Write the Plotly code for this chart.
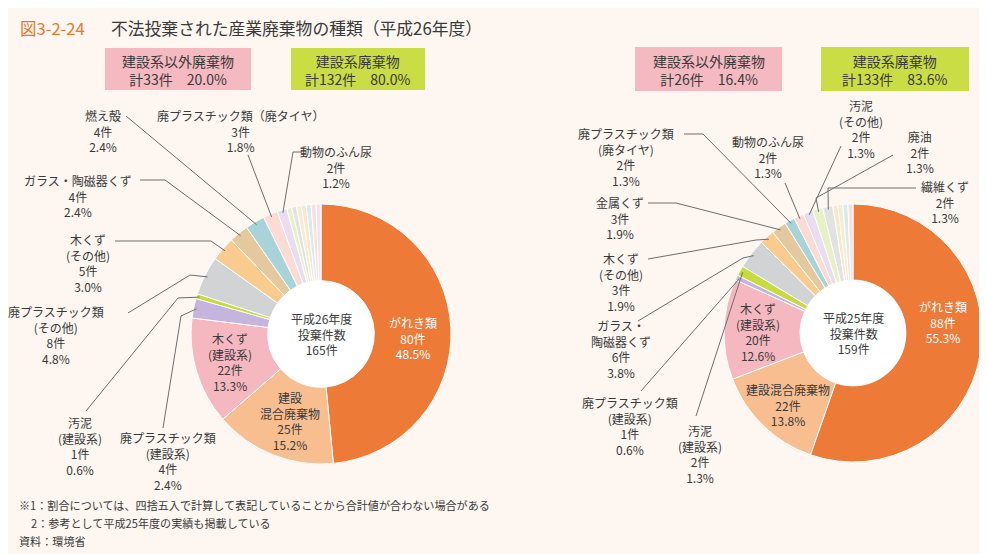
import math
import plotly.graph_objects as go

W, H = 987, 554

# ---------------- data ----------------
cats_26 = ["がれき類", "建設混合廃棄物", "木くず（建設系）", "廃プラスチック類（建設系）", "汚泥（建設系）",
           "廃プラスチック類（その他）", "木くず（その他）", "ガラス・陶磁器くず", "燃え殻",
           "廃プラスチック類（廃タイヤ）", "動物のふん尿",
           "その他①", "その他②", "その他③", "その他④", "その他⑤", "その他⑥", "その他⑦"]
vals_26 = [80, 25, 22, 4, 1, 8, 5, 4, 4, 3, 2, 1, 1, 1, 1, 1, 1, 1]
pct_26 = ["48.5%", "15.2%", "13.3%", "2.4%", "0.6%", "4.8%", "3.0%", "2.4%", "2.4%", "1.8%", "1.2%"]
disp_26 = [["がれき類"], ["建設", "混合廃棄物"], ["木くず", "(建設系)"], ["廃プラスチック類", "(建設系)"],
           ["汚泥", "(建設系)"], ["廃プラスチック類", "(その他)"], ["木くず", "(その他)"],
           ["ガラス・陶磁器くず"], ["燃え殻"], ["廃プラスチック類（廃タイヤ）"], ["動物のふん尿"]]

cats_25 = ["がれき類", "建設混合廃棄物", "木くず（建設系）", "廃プラスチック類（建設系）", "汚泥（建設系）",
           "ガラス・陶磁器くず", "木くず（その他）", "金属くず", "廃プラスチック類（廃タイヤ）",
           "動物のふん尿", "汚泥（その他）", "廃油", "繊維くず",
           "その他①", "その他②", "その他③", "その他④"]
vals_25 = [88, 22, 20, 1, 2, 6, 3, 3, 2, 2, 2, 2, 2, 1, 1, 1, 1]
pct_25 = ["55.3%", "13.8%", "12.6%", "0.6%", "1.3%", "3.8%", "1.9%", "1.9%", "1.3%", "1.3%", "1.3%", "1.3%", "1.3%"]
disp_25 = [["がれき類"], ["建設混合廃棄物"], ["木くず", "(建設系)"], ["廃プラスチック類", "(建設系)"],
           ["汚泥", "(建設系)"], ["ガラス・", "陶磁器くず"], ["木くず", "(その他)"], ["金属くず"],
           ["廃プラスチック類", "(廃タイヤ)"], ["動物のふん尿"], ["汚泥", "(その他)"], ["廃油"], ["繊維くず"]]

years = ["平成26年度", "平成25年度"]
group_names = ["建設系以外廃棄物", "建設系廃棄物"]
group_counts_26 = [33, 132]
group_pct_26 = ["20.0%", "80.0%"]
group_counts_25 = [26, 133]
group_pct_25 = ["16.4%", "83.6%"]

# ---------------- style ----------------
BG = "#FDF6F1"
TXT = "#3A3A3A"
FONT = "Noto Sans CJK JP"
base_colors = ["#ED7B37", "#F9BE90", "#F5B8C0", "#C5B4DC", "#C8DB3E"]
colors_26 = base_colors + ["#D2D3D5", "#FACB8F", "#E3C99D", "#A8D3D8", "#FDDBD5", "#EBDDF0",
                           "#E8F1C6", "#E1E2E2", "#F9EBD0", "#FCE5CB", "#D5ECEF", "#FCDFD9", "#EFE3F2"]
colors_25 = base_colors + ["#D2D3D5", "#FACB8F", "#E3C99D", "#A8D3D8", "#FDDBD5", "#EBDDF0",
                           "#E8F1C6", "#E1E2E2", "#FCE5CB", "#F9EBD0", "#D5ECEF", "#FCDFD9"]

HOLE = 0.41
pies = [
    dict(vals=vals_26, cats=cats_26, colors=colors_26, cx=313, cy=326, r=130),
    dict(vals=vals_25, cats=cats_25, colors=colors_25, cx=845, cy=325, r=129),
]

fig = go.Figure()
shapes = []
annotations = []


def text(x, y, s, size=12, color=TXT, xanchor="center"):
    annotations.append(dict(x=x, y=y, xref="x", yref="y", text=s, showarrow=False,
                            xanchor=xanchor, yanchor="middle", align="center",
                            font=dict(family=FONT, size=size, color=color)))


def block(x, yc, lines, size=12, color=TXT):
    text(x, yc, "<br>".join(lines), size=size, color=color)


def slice_point(p, idx, inset=3):
    total = sum(p["vals"])
    cum = sum(p["vals"][:idx]) + p["vals"][idx] / 2
    th = 2 * math.pi * cum / total
    rr = p["r"] - inset
    return (p["cx"] + rr * math.sin(th), p["cy"] - rr * math.cos(th))


for p in pies:
    # white disc behind the hole
    rh = p["r"] * (HOLE + 0.05)
    shapes.append(dict(type="circle", xref="x", yref="y", x0=p["cx"] - rh, x1=p["cx"] + rh,
                       y0=p["cy"] - rh, y1=p["cy"] + rh, fillcolor="white",
                       line=dict(width=0), layer="below"))
    fig.add_trace(go.Pie(
        labels=p["cats"], values=p["vals"], sort=False, direction="clockwise", rotation=0,
        hole=HOLE, textinfo="none", showlegend=False,
        marker=dict(colors=p["colors"], line=dict(color="white", width=1)),
        domain=dict(x=[(p["cx"] - p["r"]) / W, (p["cx"] + p["r"]) / W],
                    y=[1 - (p["cy"] + p["r"]) / H, 1 - (p["cy"] - p["r"]) / H]),
    ))

# ---------------- labels & leader lines ----------------
LINE = dict(color="#6E6E6E", width=1)

# idx -> (label center, leader anchor points); the last point is computed from the slice
lab_26 = {
    3: ((160, 453), [(155, 420), (173, 308)]),
    4: ((72, 438), [(78, 403), (170, 290)]),
    5: ((48, 327), [(120, 305), (182, 267)]),
    6: ((80, 255), [(107, 233), (203, 233)]),
    7: ((70, 188), [(132, 172), (157, 172)]),
    8: ((95, 123), [(118, 108)]),
    9: ((232, 123), [(240, 147)]),
    10: ((328, 159), [(293, 144), (285, 144)]),
}
lab_25 = {
    3: ((622, 418), [(633, 383)]),
    4: ((692, 446), [(688, 408)]),
    5: ((613, 341), [(630, 313), (735, 250)]),
    6: ((613, 274), [(640, 251), (748, 232)]),
    7: ((612, 210), [(640, 195), (668, 195)]),
    8: ((618, 149), [(676, 126), (695, 126)]),
    9: ((760, 149), [(777, 175)]),
    10: ((853, 121), [(833, 138)]),
    11: ((912, 144), [(885, 147), (808, 190)]),
    12: ((937, 194), [(908, 180), (820, 180)]),
}

for p, labs, disp, pct in [(pies[0], lab_26, disp_26, pct_26), (pies[1], lab_25, disp_25, pct_25)]:
    for idx, ((lx, ly), pts) in labs.items():
        block(lx, ly, disp[idx] + [f"{p['vals'][idx]}件", pct[idx]])
        sx, sy = slice_point(p, idx)
        allp = pts + [(sx, sy)]
        path = "M " + " L ".join(f"{x:.1f},{y:.1f}" for x, y in allp)
        shapes.append(dict(type="path", xref="x", yref="y", path=path, line=LINE))

# inside labels, left
block(222, 354, disp_26[2] + [f"{vals_26[2]}件", pct_26[2]])
block(282, 413, disp_26[1] + [f"{vals_26[1]}件", pct_26[1]])
block(405, 330, disp_26[0] + [f"{vals_26[0]}件", pct_26[0]], color="white")
block(313, 326, [years[0], "投棄件数", f"{sum(vals_26)}件"])
# inside labels, right
block(750, 324, disp_25[2] + [f"{vals_25[2]}件", pct_25[2]])
block(780, 397, disp_25[1] + [f"{vals_25[1]}件", pct_25[1]])
block(935, 314, disp_25[0] + [f"{vals_25[0]}件", pct_25[0]], color="white")
block(845, 325, [years[1], "投棄件数", f"{sum(vals_25)}件"])

# ---------------- group boxes ----------------
box_colors = ["#F5B9C1", "#CADD45"]
boxes = [
    (97, 243, 40, 82, 0, group_counts_26, group_pct_26),
    (283, 417, 40, 82, 1, group_counts_26, group_pct_26),
    (627, 774, 39, 83, 0, group_counts_25, group_pct_25),
    (813, 961, 39, 83, 1, group_counts_25, group_pct_25),
]
for x0, x1, y0, y1, g, cnts, pcts in boxes:
    shapes.append(dict(type="rect", xref="x", yref="y", x0=x0, x1=x1, y0=y0, y1=y1,
                       fillcolor=box_colors[g], line=dict(width=0), layer="below"))
    block((x0 + x1) / 2, (y0 + y1) / 2 + 0.5, [group_names[g], f"計{cnts[g]}件　{pcts[g]}"], size=14)

# ---------------- title & notes ----------------
text(10, 20, "図3-2-24", size=16.5, color="#E8772E", xanchor="left")
text(101, 20, "不法投棄された産業廃棄物の種類（平成26年度）", size=16.8, xanchor="left")
text(9, 497, "※1：割合については、四捨五入で計算して表記していることから合計値が合わない場合がある",
     size=11.1, xanchor="left")
text(21, 515, "2：参考として平成25年度の実績も掲載している", size=11.1, xanchor="left")
text(9, 533, "資料：環境省", size=11.1, xanchor="left")

fig.update_layout(
    width=W, height=H, margin=dict(l=0, r=0, t=0, b=0),
    paper_bgcolor=BG, plot_bgcolor=BG,
    xaxis=dict(range=[0, W], visible=False, domain=[0, 1], fixedrange=True),
    yaxis=dict(range=[H, 0], visible=False, domain=[0, 1], fixedrange=True),
    shapes=shapes, annotations=annotations, showlegend=False,
)
fig.write_html("out.html")
